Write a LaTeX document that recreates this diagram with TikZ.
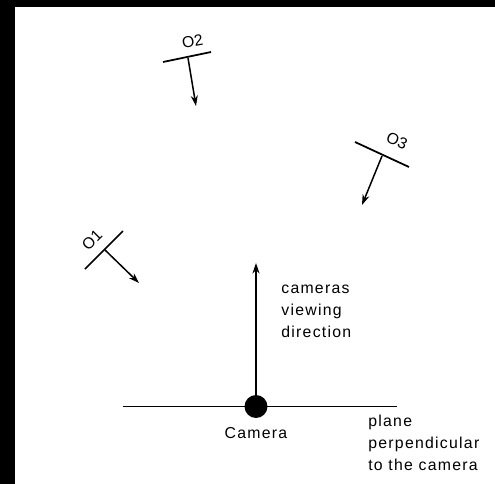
\documentclass[tikz,border=0pt]{standalone}
\usepackage{fontspec}
\newfontfamily\sketchfont{Liberation Sans}[LetterSpace=8]
\newfontfamily\obsfont{Liberation Sans}
\usetikzlibrary{positioning, arrows.meta, calc}

\begin{document}
\begin{tikzpicture}[
    x=0.02cm, y=-0.02cm,
    txt/.style={font=\sketchfont\fontsize{9pt}{12.5pt}\selectfont, inner sep=0pt, align=left},
    obs/.style={font=\obsfont\fontsize{9pt}{11pt}\selectfont, inner sep=0pt},
    bar/.style={line width=1pt},
    plane/.style={line width=0.8pt},
    dot/.style={circle, fill=black, inner sep=0pt, minimum size=0.46cm},
    arrow/.style={-{Stealth[length=6pt, width=4pt]}, line width=0.85pt}
]

% frame
\fill[black] (0,0) rectangle (495,484);
\fill[white] (15,7) rectangle (495,484);
\useasboundingbox (0,0) rectangle (495,484);

% camera and its plane
\coordinate (planeL) at (123,406.5);
\coordinate (planeR) at (397,406.5);
\draw[plane] (planeL) -- (planeR);
\coordinate (viewtip) at (256,263);
\node[dot] (cam) at (256,406.5) {};
\draw[arrow] (cam.center) -- (viewtip);

\node[txt, anchor=north] (camlbl) at (256,427) {Camera};
\node[txt, anchor=north west] (viewlbl) at (281,285) {cameras\\viewing\\direction};
\node[txt, anchor=north west] (planelbl) at (368,415) {plane\\perpendicular\\to the camera};

% observer O1
\coordinate (o1a) at (85,269);
\coordinate (o1b) at (123,231);
\coordinate (o1) at (105,250);
\coordinate (o1tip) at (139,283);
\draw[bar] (o1a) -- (o1b);
\draw[arrow] (o1) -- (o1tip);
\node[obs, rotate=45] (o1lbl) at (92,240) {O1};

% observer O2
\coordinate (o2a) at (163,62);
\coordinate (o2b) at (211,52);
\coordinate (o2) at (188,58);
\coordinate (o2tip) at (196,106);
\draw[bar] (o2a) -- (o2b);
\draw[arrow] (o2) -- (o2tip);
\node[obs, rotate=10] (o2lbl) at (192.5,41) {O2};

% observer O3
\coordinate (o3a) at (355,142);
\coordinate (o3b) at (409,167);
\coordinate (o3) at (382,156);
\coordinate (o3tip) at (362,205);
\draw[bar] (o3a) -- (o3b);
\draw[arrow] (o3) -- (o3tip);
\node[obs, rotate=-24] (o3lbl) at (397,141) {O3};

\end{tikzpicture}
\end{document}
